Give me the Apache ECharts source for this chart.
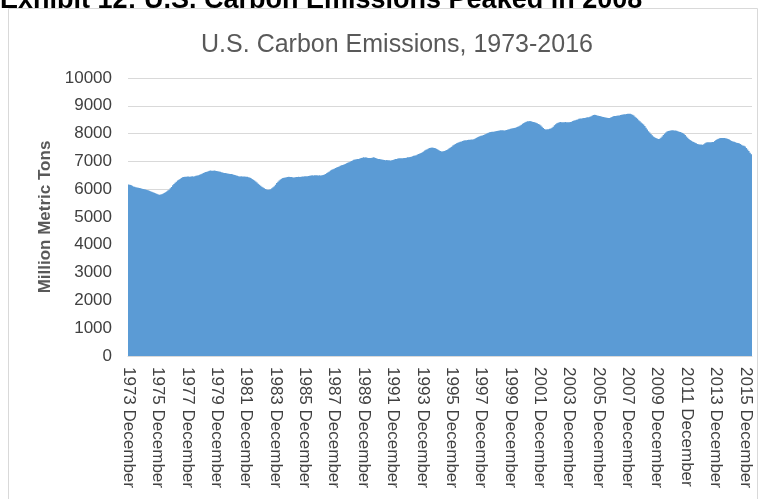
<!DOCTYPE html>
<html>
<head>
<meta charset="utf-8">
<script src="https://cdn.jsdelivr.net/npm/echarts@6/dist/echarts.min.js"></script>
<style>
  html, body { margin: 0; padding: 0; background: #ffffff; }
  #chart { width: 760px; height: 499px; }
</style>
</head>
<body>
<div id="chart"></div>
<script>
// Monthly U.S. carbon emissions (million metric tons), 1973 December .. 2016 May
const emissions = [
  6170,                                                                   // 1973 Dec
  6160, 6150, 6120, 6100, 6085, 6070, 6060, 6050, 6040, 6030, 6020, 6010, // 1974
  6000, 5990, 5975, 5960, 5945, 5925, 5910, 5890, 5870, 5855, 5840, 5820, // 1975
  5800, 5805, 5820, 5840, 5860, 5890, 5920, 5950, 5980, 6030, 6080, 6140, // 1976
  6190, 6230, 6270, 6310, 6340, 6370, 6400, 6430, 6440, 6450, 6445, 6455, // 1977
  6460, 6450, 6455, 6465, 6460, 6470, 6480, 6490, 6505, 6520, 6540, 6560, // 1978
  6580, 6600, 6615, 6630, 6645, 6660, 6670, 6665, 6660, 6670, 6660, 6655, // 1979
  6650, 6640, 6630, 6610, 6600, 6585, 6580, 6575, 6565, 6560, 6550, 6545, // 1980
  6535, 6520, 6510, 6495, 6480, 6470, 6460, 6465, 6460, 6455, 6460, 6450, // 1981
  6445, 6430, 6420, 6400, 6370, 6340, 6310, 6280, 6240, 6200, 6160, 6120, // 1982
  6090, 6060, 6035, 6010, 5990, 5980, 5985, 6000, 6030, 6070, 6110, 6160, // 1983
  6220, 6270, 6310, 6350, 6380, 6400, 6410, 6420, 6430, 6440, 6445, 6440, // 1984
  6435, 6430, 6425, 6430, 6435, 6440, 6445, 6440, 6450, 6455, 6460, 6465, // 1985
  6470, 6465, 6475, 6480, 6490, 6500, 6495, 6500, 6505, 6500, 6495, 6500, // 1986
  6495, 6500, 6510, 6530, 6550, 6580, 6610, 6640, 6670, 6700, 6720, 6740, // 1987
  6760, 6780, 6800, 6820, 6840, 6860, 6875, 6890, 6910, 6935, 6950, 6970, // 1988
  6985, 7010, 7035, 7060, 7070, 7075, 7085, 7090, 7100, 7120, 7130, 7145, // 1989
  7140, 7150, 7130, 7125, 7120, 7125, 7135, 7145, 7140, 7120, 7105, 7090, // 1990
  7085, 7075, 7065, 7060, 7050, 7045, 7050, 7045, 7040, 7035, 7040, 7050, // 1991
  7070, 7085, 7090, 7100, 7110, 7115, 7110, 7115, 7120, 7125, 7135, 7145, // 1992
  7150, 7160, 7170, 7185, 7200, 7210, 7225, 7245, 7265, 7280, 7300, 7330, // 1993
  7360, 7390, 7420, 7440, 7460, 7480, 7490, 7500, 7495, 7485, 7470, 7450, // 1994
  7420, 7395, 7375, 7360, 7365, 7375, 7390, 7410, 7440, 7470, 7500, 7530, // 1995
  7570, 7600, 7630, 7655, 7675, 7690, 7705, 7720, 7735, 7750, 7760, 7765, // 1996
  7770, 7775, 7780, 7785, 7790, 7800, 7815, 7840, 7865, 7890, 7905, 7920, // 1997
  7935, 7950, 7965, 7985, 8010, 8030, 8050, 8060, 8065, 8070, 8080, 8085, // 1998
  8095, 8105, 8115, 8120, 8125, 8120, 8115, 8120, 8130, 8145, 8160, 8170, // 1999
  8180, 8190, 8200, 8210, 8225, 8245, 8265, 8290, 8320, 8350, 8380, 8410, // 2000
  8430, 8440, 8445, 8450, 8445, 8430, 8420, 8410, 8390, 8370, 8345, 8325, // 2001
  8290, 8250, 8200, 8165, 8150, 8155, 8160, 8170, 8180, 8210, 8250, 8300, // 2002
  8340, 8370, 8390, 8410, 8415, 8410, 8405, 8410, 8415, 8410, 8405, 8410, // 2003
  8415, 8430, 8450, 8470, 8480, 8495, 8510, 8530, 8540, 8545, 8550, 8560, // 2004
  8565, 8575, 8585, 8590, 8605, 8625, 8650, 8670, 8680, 8670, 8655, 8640, // 2005
  8630, 8620, 8610, 8600, 8590, 8580, 8570, 8560, 8560, 8575, 8600, 8620, // 2006
  8630, 8635, 8640, 8650, 8655, 8665, 8675, 8690, 8695, 8700, 8705, 8710, // 2007
  8715, 8710, 8700, 8680, 8650, 8610, 8570, 8530, 8480, 8440, 8400, 8360, // 2008
  8325, 8270, 8210, 8150, 8085, 8040, 7990, 7945, 7900, 7870, 7845, 7825, // 2009
  7810, 7815, 7850, 7900, 7950, 7995, 8040, 8080, 8095, 8105, 8115, 8120, // 2010
  8120, 8115, 8110, 8100, 8085, 8070, 8060, 8040, 8025, 7990, 7950, 7900, // 2011
  7850, 7810, 7770, 7740, 7720, 7695, 7670, 7650, 7630, 7620, 7610, 7605, // 2012
  7600, 7620, 7650, 7680, 7690, 7685, 7690, 7690, 7695, 7700, 7730, 7770, // 2013
  7800, 7815, 7830, 7840, 7845, 7845, 7840, 7830, 7820, 7810, 7790, 7760, // 2014
  7730, 7720, 7710, 7690, 7670, 7660, 7650, 7630, 7600, 7575, 7560, 7540, // 2015
  7480, 7430, 7370, 7310, 7260                                            // 2016 Jan-May
];

const monthNames = ['January', 'February', 'March', 'April', 'May', 'June',
  'July', 'August', 'September', 'October', 'November', 'December'];
const firstYear = 1973;
const firstMonth = 11; // December

const categories = [];
for (let k = 0; k < emissions.length; k++) {
  const m = firstMonth + k;
  categories.push((firstYear + Math.floor(m / 12)) + ' ' + monthNames[m % 12]);
}

const yMin = 0, yMax = 10000, yStep = 1000;
const headerText = 'Exhibit 12: U.S. Carbon Emissions Peaked in 2008';
const titleText = 'U.S. Carbon Emissions, 1973-2016';
const yAxisName = 'Million Metric Tons';

const chart = echarts.init(document.getElementById('chart'), null, { renderer: 'canvas' });
chart.setOption({
  animation: false,
  backgroundColor: '#ffffff',
  textStyle: { fontFamily: '"Liberation Sans", Arial, sans-serif' },
  graphic: [
    {
      type: 'rect', silent: true, z: -1,
      shape: { x: 8.5, y: 8.5, width: 749, height: 520 },
      style: { fill: '#ffffff', stroke: '#d9d9d9', lineWidth: 1 }
    },
    {
      type: 'text', silent: true,
      style: {
        text: headerText, x: 0, y: 14,
        textAlign: 'left', textVerticalAlign: 'bottom',
        font: 'bold 27px "Liberation Sans", Arial, sans-serif',
        fill: '#000000'
      }
    },
    {
      type: 'text', silent: true,
      style: {
        text: titleText, x: 397, y: 45,
        textAlign: 'center', textVerticalAlign: 'middle',
        font: '25px "Liberation Sans", Arial, sans-serif',
        fill: '#595959'
      }
    }
  ],
  grid: { left: 128, right: 8, top: 78, bottom: 143, containLabel: false, outerBoundsMode: 'none' },
  xAxis: {
    type: 'category',
    data: categories,
    boundaryGap: true,
    axisLine: { show: true, lineStyle: { color: '#d9d9d9', width: 1 } },
    axisTick: { show: false },
    axisLabel: {
      interval: 23,
      rotate: -90,
      margin: 11,
      fontSize: 17,
      color: '#404040',
      fontFamily: '"Liberation Sans", Arial, sans-serif'
    },
    splitLine: { show: false }
  },
  yAxis: {
    type: 'value',
    min: yMin, max: yMax, interval: yStep,
    name: yAxisName,
    nameLocation: 'middle',
    nameRotate: 90,
    nameGap: 72,
    nameTextStyle: {
      fontSize: 17, fontWeight: 'bold', color: '#595959',
      fontFamily: '"Liberation Sans", Arial, sans-serif'
    },
    axisLine: { show: false },
    axisTick: { show: false },
    axisLabel: {
      margin: 16, fontSize: 17, color: '#404040',
      fontFamily: '"Liberation Sans", Arial, sans-serif',
      formatter: function (v) { return String(v); }
    },
    splitLine: { show: true, lineStyle: { color: '#d9d9d9', width: 1 } }
  },
  series: [{
    type: 'bar',
    data: emissions,
    large: true,
    largeThreshold: 100,
    barCategoryGap: '0%',
    barGap: '0%',
    itemStyle: { color: '#5b9bd5' },
    emphasis: { disabled: true }
  }]
});
</script>
</body>
</html>
